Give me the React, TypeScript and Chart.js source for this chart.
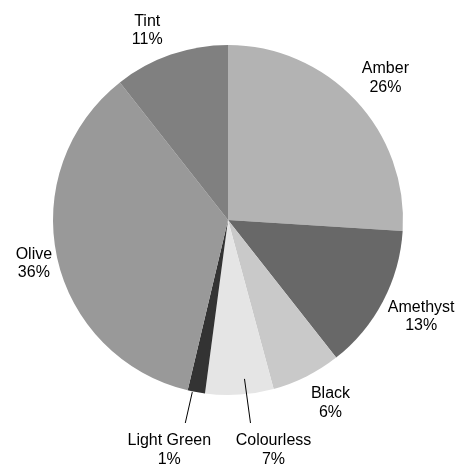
import React, { useEffect, useRef } from "react";
import { Chart, registerables } from "chart.js";

Chart.register(...registerables);

const categories = ["Amber", "Amethyst", "Black", "Colourless", "Light Green", "Olive", "Tint"];
const values = [26, 13.4, 6.4, 6.3, 1.6, 35.7, 10.6];
const percentLabels = ["26%", "13%", "6%", "7%", "1%", "36%", "11%"];
const colors = ["#b3b3b3", "#686868", "#c9c9c9", "#e5e5e5", "#333333", "#999999", "#808080"];
const calloutIndexes = [3, 4];

const FONT = "16px 'Liberation Sans', Arial, sans-serif";
// label distance beyond the pie edge, and angular nudge (radians), per slice
const labelGap = [37, 41, 35, 0, 0, 24, 31];
const labelTurn = [0.02, -0.02, -0.045, 0, 0, -0.005, -0.07];

const labelPlugin = {
  id: "pieLabels",
  afterDraw(chart: any) {
    const ctx = chart.ctx;
    const meta = chart.getDatasetMeta(0);
    ctx.save();
    ctx.font = FONT;
    ctx.fillStyle = "#000";
    ctx.strokeStyle = "#000";
    ctx.lineWidth = 1;
    ctx.textAlign = "center";
    ctx.textBaseline = "middle";
    const lh = 18.5;
    meta.data.forEach((arc: any, i: number) => {
      const p = arc.getProps(["x", "y", "startAngle", "endAngle", "outerRadius"], true);
      const mid = (p.startAngle + p.endAngle) / 2;
      const r = p.outerRadius;
      if (calloutIndexes.includes(i)) {
        const isLG = i === 4;
        const r0 = isLG ? r * 1.0 : r * 0.91;
        const sx = p.x + Math.cos(mid) * r0 + (isLG ? -4 : 6);
        const sy = p.y + Math.sin(mid) * r0;
        const ex = sx + (isLG ? -7 : 6);
        const ey = p.y + r * 1.16;
        ctx.beginPath();
        ctx.moveTo(sx, sy);
        ctx.lineTo(ex, ey);
        ctx.stroke();
        const tx = ex + (isLG ? -16 : 23);
        const ty = ey + 18;
        ctx.fillText(categories[i], tx, ty);
        ctx.fillText(percentLabels[i], tx, ty + lh);
      } else {
        const rr = r + labelGap[i];
        const a = mid + labelTurn[i];
        const cx = p.x + Math.cos(a) * rr;
        const cy = p.y + Math.sin(a) * rr;
        ctx.fillText(categories[i], cx, cy - lh / 2);
        ctx.fillText(percentLabels[i], cx, cy + lh / 2);
      }
    });
    ctx.restore();
  },
};

export default function App() {
  const ref = useRef<HTMLCanvasElement>(null);
  useEffect(() => {
    if (!ref.current) return;
    const chart = new Chart(ref.current, {
      type: "pie",
      data: {
        labels: categories,
        datasets: [
          {
            data: values,
            backgroundColor: colors,
            borderWidth: 0,
          },
        ],
      },
      options: {
        responsive: false,
        animation: false,
        layout: { padding: { left: 53, right: 59, top: 45, bottom: 70 } },
        plugins: {
          legend: { display: false },
          tooltip: { enabled: false },
        },
      },
      plugins: [labelPlugin],
    });
    return () => chart.destroy();
  }, []);
  return (
    <div style={{ position: "fixed", left: 0, top: 0, width: 462, height: 465, background: "#fff" }}>
      <canvas ref={ref} width={462} height={465} />
    </div>
  );
}
